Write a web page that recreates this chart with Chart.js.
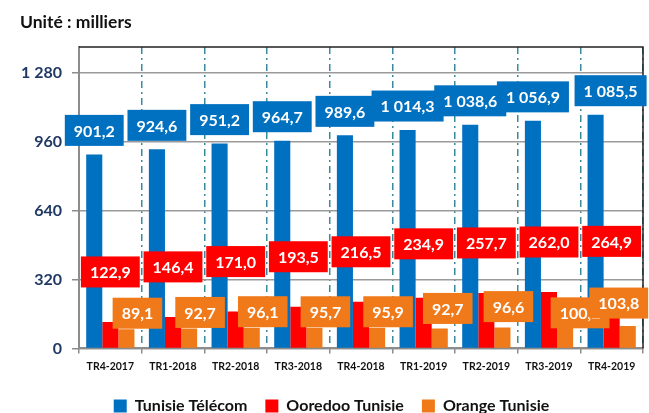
<!DOCTYPE html>
<html>
<head>
<meta charset="utf-8">
<script src="https://cdn.jsdelivr.net/npm/chart.js@4.4.1/dist/chart.umd.min.js"></script>
<style>
  html, body { margin: 0; padding: 0; background: #fff; }
  #wrap { width: 649px; height: 413px; position: relative; }
</style>
</head>
<body>
<div id="wrap"><canvas id="abonnes"></canvas></div>
<script>
// trimestres
const quarters = ['TR4-2017', 'TR1-2018', 'TR2-2018', 'TR3-2018', 'TR4-2018',
                  'TR1-2019', 'TR2-2019', 'TR3-2019', 'TR4-2019'];
// abonnés, en milliers
const tunisieTelecom = [901.2, 924.6, 951.2, 964.7, 989.6, 1014.3, 1038.6, 1056.9, 1085.5];
const ooredooTunisie = [122.9, 146.4, 171.0, 193.5, 216.5, 234.9, 257.7, 262.0, 264.9];
const orangeTunisie  = [89.1, 92.7, 96.1, 95.7, 95.9, 92.7, 96.6, 100.2, 103.8];
const yTicks = [0, 320, 640, 960, 1280];

const BLUE = '#0070C0', RED = '#FF0000', ORANGE = '#F07A1A';
const FONT = 'Lato, "Open Sans", sans-serif';

// 1085.5 -> "1 085,5"
function frNum(v, dec) {
    let s = v.toFixed(dec).replace('.', ',');
    let parts = s.split(',');
    parts[0] = parts[0].replace(/\B(?=(\d{3})+(?!\d))/g, ' ');
    return parts.join(',');
}

/* boxed value labels, drawn series by series so later boxes sit on top */
const boxLabels = {
    id: 'boxLabels',
    afterDatasetsDraw(chart, args, opts) {
        const ctx = chart.ctx;
        ctx.save();
        ctx.font = 'bold 16px ' + FONT;
        ctx.textAlign = 'center';
        ctx.textBaseline = 'middle';
        chart.data.datasets.forEach((ds, d) => {
            const off = opts.offsets[d];
            const meta = chart.getDatasetMeta(d);
            meta.data.forEach((bar, i) => {
                const nudge = (opts.nudge[d] && opts.nudge[d][i]) || [0, 0];
                const cx = bar.x + off[0] + nudge[0];
                const cy = bar.y + off[1] + nudge[1];
                const txt = frNum(ds.data[i], 1);
                const w = ctx.measureText(txt).width + 18;
                const h = 31;
                ctx.fillStyle = ds.backgroundColor;
                ctx.fillRect(cx - w / 2, cy - h / 2, w, h);
                ctx.fillStyle = '#fff';
                ctx.fillText(txt, cx, cy + 1);
            });
        });
        ctx.restore();
    }
};

/* top and right edges of the plot frame */
const plotFrame = {
    id: 'plotFrame',
    beforeDatasetsDraw(chart) {
        const a = chart.chartArea, ctx = chart.ctx;
        ctx.save();
        ctx.strokeStyle = '#222';
        ctx.lineWidth = 1.5;
        ctx.beginPath();
        ctx.moveTo(a.left, a.top);
        ctx.lineTo(a.right, a.top);
        ctx.lineTo(a.right, a.bottom);
        ctx.stroke();
        ctx.restore();
    }
};

new Chart(document.getElementById('abonnes'), {
    type: 'bar',
    data: {
        labels: quarters,
        datasets: [
            { label: 'Tunisie Télécom', data: tunisieTelecom, backgroundColor: BLUE },
            { label: 'Ooredoo Tunisie', data: ooredooTunisie, backgroundColor: RED },
            { label: 'Orange Tunisie',  data: orangeTunisie,  backgroundColor: ORANGE }
        ]
    },
    plugins: [plotFrame, boxLabels],
    options: {
        responsive: true,
        maintainAspectRatio: false,
        animation: false,
        datasets: { bar: { categoryPercentage: 0.77, barPercentage: 1.0 } },
        layout: { padding: { left: 20, right: 6, top: 0, bottom: -11 } },
        scales: {
            x: {
                grid: {
                    offset: true,
                    color: c => (c.index === 0 || c.index === quarters.length) ? 'rgba(0,0,0,0)' : '#3A8A9E',
                    lineWidth: 1.5,
                    tickColor: '#8c8c8c',
                    tickBorderDash: [],
                    tickLength: 5
                },
                border: { color: '#8c8c8c', width: 2, dash: [7, 4, 2, 4] },
                ticks: { color: '#111', font: { family: FONT, weight: 'bold', size: 10.5 }, padding: 7 }
            },
            y: {
                min: 0,
                max: 1400,
                afterBuildTicks: s => { s.ticks = yTicks.map(v => ({ value: v })); },
                afterFit: s => { s.width = 59; },
                grid: { color: '#9a9a9a', lineWidth: 1.5, tickLength: 7, tickColor: '#8c8c8c' },
                border: { color: '#8c8c8c', width: 2 },
                ticks: {
                    color: '#1F3864',
                    font: { family: FONT, weight: 'bold', size: 16 },
                    padding: 10,
                    callback: v => frNum(v, 0)
                }
            }
        },
        plugins: {
            title: {
                display: true,
                text: 'Unité : milliers',
                align: 'start',
                color: '#111',
                font: { family: FONT, weight: 'bold', size: 17.5 },
                padding: { top: 12, bottom: 14 }
            },
            legend: {
                position: 'bottom',
                labels: {
                    color: '#111',
                    font: { family: FONT, weight: 'bold', size: 16 },
                    boxWidth: 13,
                    boxHeight: 13,
                    padding: 18
                }
            },
            tooltip: { enabled: false },
            boxLabels: {
                offsets: [[0, -24], [0, -50], [11, -16]],
                nudge: {
                    0: { 8: [15, 0] },
                    1: { 5: [0, -4] },
                    2: { 5: [-3, -4], 6: [-5, -5], 7: [4, 2], 8: [-20, -7] }
                }
            }
        }
    }
});
</script>
</body>
</html>
